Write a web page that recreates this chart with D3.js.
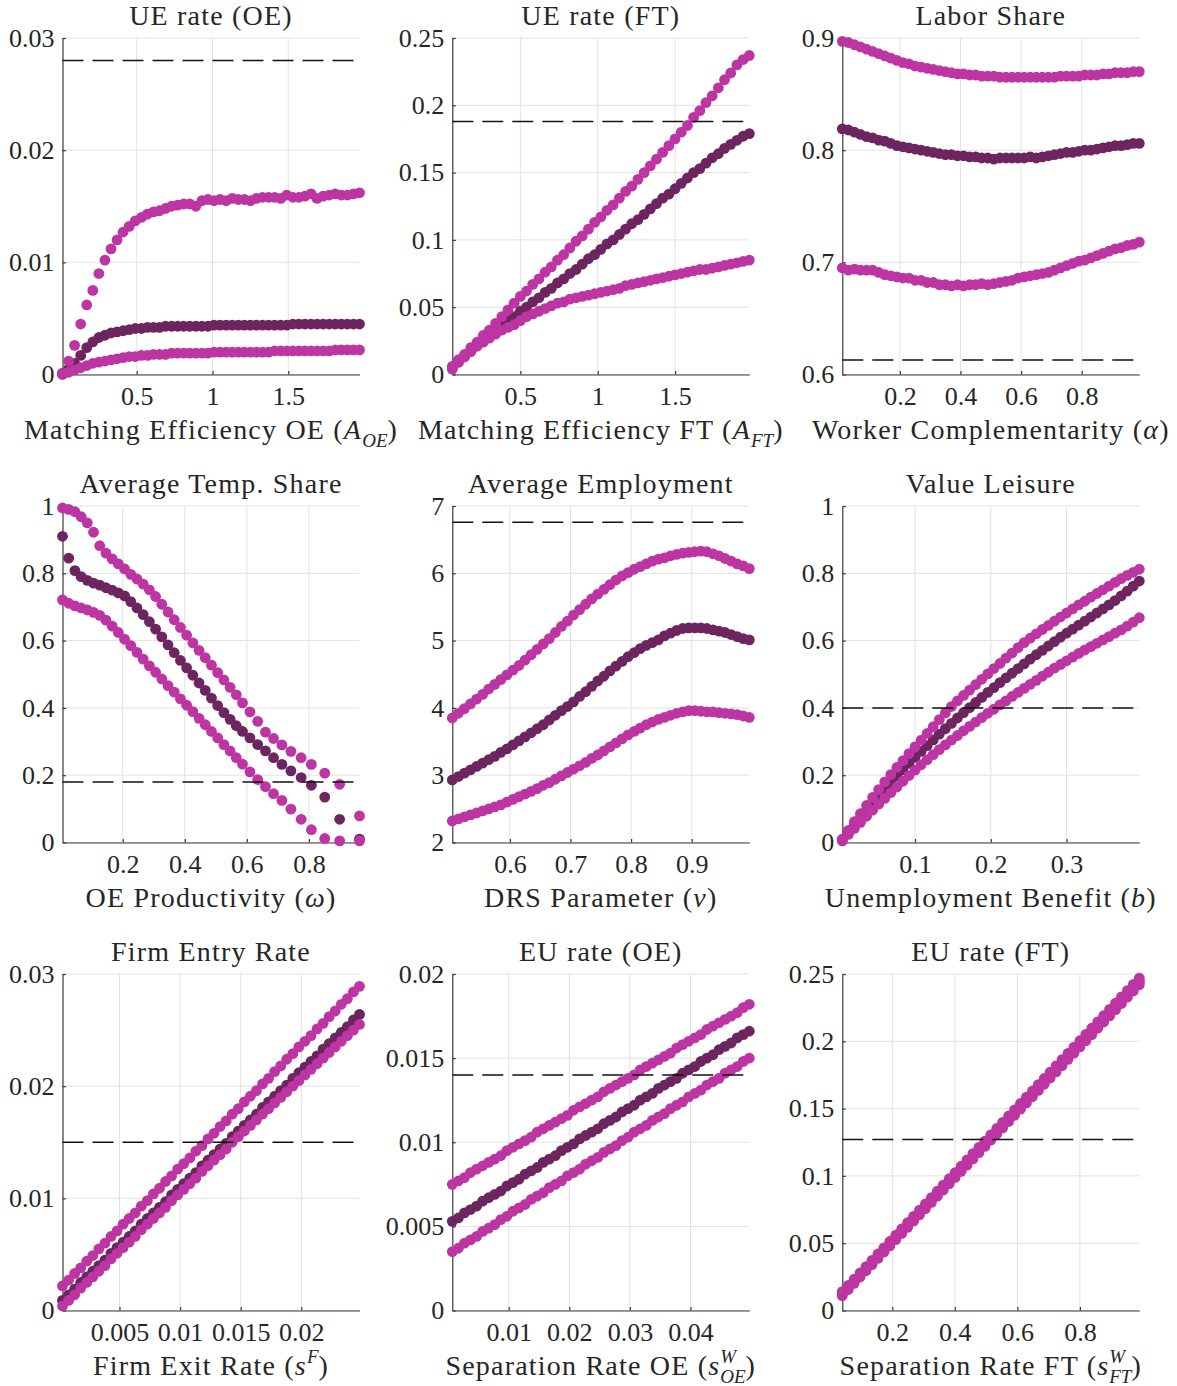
<!DOCTYPE html>
<html lang="en">

<head>
    <meta charset="utf-8" />
    <title>Comparative statics</title>
    <script src="https://d3js.org/d3.v7.min.js"></script>
</head>
<style>
    body {
        margin: 0;
        background: #fff;
    }

    svg text {
        font-family: "Liberation Serif", "DejaVu Serif", serif;
        fill: #262626;
    }

    .axis text {
        font-size: 26px;
    }

    .axis path,
    .axis line {
        stroke: #3a3a3a;
        stroke-width: 1.2px;
    }

    .grid {
        stroke: #e2e2e2;
        stroke-width: 1px;
    }

    .title,
    .xlab {
        font-size: 28px;
        letter-spacing: 1.2px;
    }
</style>

<body>
    <div id="chart"></div>
</body>

<script>
    // ---- data ----
    // UE rate (OE) vs matching efficiency OE
    var aoeGrid = [0.01, 0.05, 0.09, 0.13, 0.17, 0.21, 0.25, 0.29, 0.33, 0.37, 0.41, 0.45, 0.49, 0.53, 0.57, 0.61, 0.65, 0.69, 0.73, 0.77, 0.81, 0.85, 0.89, 0.93, 0.97, 1.01, 1.05, 1.09, 1.13, 1.17, 1.21, 1.25, 1.29, 1.33, 1.37, 1.41, 1.45, 1.49, 1.53, 1.57, 1.61, 1.65, 1.69, 1.73, 1.77, 1.81, 1.85, 1.89, 1.93, 1.97];
    var ueOeHigh = [0.0001, 0.0012, 0.0026, 0.0045, 0.0062, 0.0075, 0.0090, 0.0102, 0.0112, 0.0120, 0.0127, 0.0132, 0.0137, 0.0140, 0.0143, 0.0145, 0.0146, 0.0148, 0.0150, 0.0151, 0.0152, 0.0152, 0.0150, 0.0155, 0.0156, 0.0155, 0.0156, 0.0155, 0.0157, 0.0156, 0.0156, 0.0155, 0.0157, 0.0158, 0.0158, 0.0158, 0.0157, 0.0160, 0.0158, 0.0158, 0.0159, 0.0161, 0.0157, 0.0159, 0.0160, 0.0161, 0.0160, 0.0160, 0.0161, 0.0162];
    var ueOeBase = [0.0001, 0.0005, 0.0010, 0.0017, 0.0024, 0.0029, 0.0033, 0.0035, 0.0037, 0.0038, 0.0039, 0.0040, 0.0041, 0.0041, 0.0042, 0.0042, 0.0042, 0.0043, 0.0043, 0.0043, 0.0043, 0.0043, 0.0043, 0.0043, 0.0043, 0.0044, 0.0044, 0.0044, 0.0044, 0.0044, 0.0044, 0.0044, 0.0044, 0.0044, 0.0044, 0.0044, 0.0044, 0.0044, 0.0045, 0.0045, 0.0045, 0.0045, 0.0045, 0.0045, 0.0045, 0.0045, 0.0045, 0.0045, 0.0045, 0.0045];
    var ueOeLow = [0.0000, 0.0002, 0.0004, 0.0006, 0.0008, 0.0010, 0.0011, 0.0012, 0.0013, 0.0014, 0.0015, 0.0016, 0.0016, 0.0017, 0.0017, 0.0018, 0.0018, 0.0018, 0.0019, 0.0019, 0.0019, 0.0019, 0.0019, 0.0019, 0.0019, 0.0020, 0.0020, 0.0020, 0.0020, 0.0020, 0.0020, 0.0020, 0.0020, 0.0020, 0.0020, 0.0021, 0.0021, 0.0021, 0.0021, 0.0021, 0.0021, 0.0021, 0.0021, 0.0021, 0.0021, 0.0022, 0.0022, 0.0022, 0.0022, 0.0022];

    // UE rate (FT) vs matching efficiency FT
    var aftGrid = [0.06, 0.10, 0.14, 0.18, 0.22, 0.26, 0.30, 0.34, 0.38, 0.42, 0.46, 0.50, 0.54, 0.58, 0.62, 0.66, 0.70, 0.74, 0.78, 0.82, 0.86, 0.90, 0.94, 0.98, 1.02, 1.06, 1.10, 1.14, 1.18, 1.22, 1.26, 1.30, 1.34, 1.38, 1.42, 1.46, 1.50, 1.54, 1.58, 1.62, 1.66, 1.70, 1.74, 1.78, 1.82, 1.86, 1.90, 1.94, 1.98];
    var ueFtHigh = [0.006, 0.011, 0.015, 0.020, 0.024, 0.029, 0.033, 0.038, 0.043, 0.048, 0.053, 0.058, 0.062, 0.067, 0.071, 0.076, 0.080, 0.085, 0.089, 0.094, 0.099, 0.103, 0.108, 0.113, 0.117, 0.122, 0.126, 0.131, 0.136, 0.140, 0.145, 0.150, 0.155, 0.160, 0.165, 0.170, 0.175, 0.180, 0.185, 0.191, 0.196, 0.202, 0.207, 0.213, 0.219, 0.224, 0.230, 0.234, 0.237];
    var ueFtBase = [0.005, 0.010, 0.014, 0.018, 0.022, 0.026, 0.029, 0.033, 0.036, 0.040, 0.043, 0.047, 0.050, 0.054, 0.057, 0.061, 0.064, 0.068, 0.071, 0.075, 0.078, 0.082, 0.086, 0.089, 0.093, 0.097, 0.100, 0.104, 0.108, 0.112, 0.115, 0.119, 0.123, 0.127, 0.131, 0.134, 0.138, 0.142, 0.146, 0.150, 0.153, 0.157, 0.161, 0.164, 0.168, 0.171, 0.174, 0.177, 0.179];
    var ueFtLow = [0.004, 0.009, 0.013, 0.017, 0.021, 0.024, 0.027, 0.030, 0.033, 0.035, 0.037, 0.040, 0.043, 0.045, 0.047, 0.049, 0.051, 0.053, 0.054, 0.056, 0.057, 0.058, 0.059, 0.060, 0.061, 0.062, 0.063, 0.064, 0.066, 0.067, 0.068, 0.069, 0.070, 0.071, 0.072, 0.073, 0.074, 0.075, 0.076, 0.077, 0.078, 0.078, 0.079, 0.080, 0.081, 0.082, 0.083, 0.084, 0.085];

    // Labor share vs worker complementarity
    var alphaGrid = [0.01, 0.03, 0.05, 0.07, 0.09, 0.11, 0.13, 0.15, 0.17, 0.19, 0.21, 0.23, 0.25, 0.27, 0.29, 0.31, 0.33, 0.35, 0.37, 0.39, 0.41, 0.43, 0.45, 0.47, 0.49, 0.51, 0.53, 0.55, 0.57, 0.59, 0.61, 0.63, 0.65, 0.67, 0.69, 0.71, 0.73, 0.75, 0.77, 0.79, 0.81, 0.83, 0.85, 0.87, 0.89, 0.91, 0.93, 0.95, 0.97, 0.99];
    var laborHigh = [0.897, 0.896, 0.894, 0.892, 0.890, 0.888, 0.886, 0.884, 0.882, 0.880, 0.878, 0.877, 0.875, 0.874, 0.873, 0.872, 0.871, 0.870, 0.869, 0.868, 0.868, 0.867, 0.867, 0.866, 0.866, 0.866, 0.865, 0.865, 0.865, 0.865, 0.865, 0.865, 0.865, 0.865, 0.865, 0.865, 0.866, 0.866, 0.866, 0.866, 0.867, 0.867, 0.867, 0.868, 0.868, 0.869, 0.869, 0.869, 0.870, 0.870];
    var laborBase = [0.819, 0.818, 0.816, 0.814, 0.812, 0.811, 0.809, 0.808, 0.806, 0.804, 0.803, 0.802, 0.801, 0.800, 0.799, 0.798, 0.797, 0.796, 0.796, 0.795, 0.795, 0.794, 0.794, 0.793, 0.793, 0.792, 0.793, 0.793, 0.793, 0.793, 0.793, 0.794, 0.793, 0.794, 0.795, 0.796, 0.797, 0.798, 0.798, 0.799, 0.800, 0.800, 0.801, 0.802, 0.803, 0.804, 0.804, 0.805, 0.806, 0.806];
    var laborLow = [0.695, 0.693, 0.694, 0.693, 0.693, 0.693, 0.691, 0.689, 0.688, 0.687, 0.686, 0.686, 0.684, 0.684, 0.682, 0.682, 0.680, 0.680, 0.679, 0.680, 0.679, 0.680, 0.680, 0.681, 0.680, 0.681, 0.682, 0.683, 0.684, 0.686, 0.687, 0.688, 0.689, 0.690, 0.691, 0.693, 0.695, 0.697, 0.699, 0.701, 0.702, 0.704, 0.706, 0.708, 0.710, 0.712, 0.713, 0.715, 0.716, 0.718];

    // Average temp share vs OE productivity
    var omegaGrid = [0.006, 0.026, 0.046, 0.066, 0.086, 0.106, 0.126, 0.146, 0.166, 0.186, 0.206, 0.226, 0.246, 0.266, 0.286, 0.306, 0.326, 0.346, 0.366, 0.386, 0.406, 0.426, 0.446, 0.466, 0.486, 0.506, 0.526, 0.546, 0.566, 0.586, 0.61, 0.635, 0.66, 0.686, 0.713, 0.742, 0.775, 0.808, 0.851, 0.899, 0.963];
    var tempHigh = [0.994, 0.990, 0.983, 0.968, 0.950, 0.922, 0.882, 0.860, 0.843, 0.828, 0.813, 0.797, 0.783, 0.768, 0.751, 0.731, 0.708, 0.685, 0.662, 0.639, 0.616, 0.593, 0.571, 0.549, 0.527, 0.505, 0.483, 0.461, 0.439, 0.415, 0.388, 0.360, 0.328, 0.309, 0.290, 0.271, 0.252, 0.232, 0.206, 0.173, 0.079];
    var tempBase = [0.910, 0.845, 0.808, 0.790, 0.779, 0.771, 0.765, 0.757, 0.750, 0.742, 0.733, 0.716, 0.697, 0.677, 0.656, 0.634, 0.611, 0.587, 0.564, 0.541, 0.519, 0.497, 0.474, 0.452, 0.429, 0.407, 0.386, 0.366, 0.347, 0.330, 0.311, 0.291, 0.272, 0.252, 0.232, 0.213, 0.193, 0.170, 0.135, 0.069, 0.010];
    var tempLow = [0.721, 0.711, 0.703, 0.697, 0.691, 0.684, 0.675, 0.661, 0.643, 0.624, 0.604, 0.585, 0.565, 0.545, 0.525, 0.506, 0.486, 0.466, 0.447, 0.427, 0.408, 0.389, 0.369, 0.350, 0.330, 0.311, 0.291, 0.272, 0.252, 0.233, 0.210, 0.187, 0.166, 0.145, 0.125, 0.099, 0.069, 0.038, 0.012, 0.005, 0.005];

    // Average employment vs DRS parameter
    var nuGrid = [0.505, 0.515, 0.525, 0.535, 0.545, 0.555, 0.565, 0.575, 0.585, 0.595, 0.605, 0.615, 0.625, 0.635, 0.645, 0.655, 0.665, 0.675, 0.685, 0.695, 0.705, 0.715, 0.725, 0.735, 0.745, 0.755, 0.765, 0.775, 0.785, 0.795, 0.805, 0.815, 0.825, 0.835, 0.845, 0.855, 0.865, 0.875, 0.885, 0.895, 0.905, 0.915, 0.925, 0.935, 0.945, 0.955, 0.965, 0.975, 0.985, 0.995];
    var emplHigh = [3.85, 3.92, 3.99, 4.06, 4.13, 4.20, 4.28, 4.35, 4.42, 4.49, 4.56, 4.63, 4.71, 4.79, 4.87, 4.95, 5.03, 5.12, 5.21, 5.29, 5.38, 5.46, 5.54, 5.62, 5.69, 5.76, 5.83, 5.90, 5.96, 6.01, 6.06, 6.10, 6.14, 6.18, 6.21, 6.23, 6.26, 6.28, 6.30, 6.31, 6.32, 6.33, 6.32, 6.29, 6.26, 6.22, 6.18, 6.14, 6.11, 6.07];
    var emplBase = [2.93, 2.98, 3.03, 3.08, 3.13, 3.18, 3.23, 3.28, 3.34, 3.39, 3.45, 3.51, 3.57, 3.63, 3.69, 3.75, 3.82, 3.89, 3.96, 4.02, 4.09, 4.17, 4.24, 4.32, 4.40, 4.47, 4.55, 4.62, 4.69, 4.76, 4.82, 4.88, 4.93, 4.97, 5.01, 5.07, 5.11, 5.15, 5.18, 5.19, 5.19, 5.19, 5.18, 5.16, 5.14, 5.12, 5.09, 5.06, 5.03, 5.01];
    var emplLow = [2.32, 2.35, 2.38, 2.41, 2.44, 2.47, 2.50, 2.53, 2.56, 2.60, 2.64, 2.68, 2.72, 2.76, 2.80, 2.85, 2.89, 2.94, 2.99, 3.04, 3.09, 3.14, 3.19, 3.25, 3.30, 3.36, 3.42, 3.48, 3.54, 3.60, 3.65, 3.70, 3.75, 3.79, 3.83, 3.86, 3.89, 3.92, 3.94, 3.96, 3.96, 3.95, 3.94, 3.94, 3.93, 3.92, 3.91, 3.90, 3.88, 3.86];

    // Value of leisure vs unemployment benefit
    var bGrid = [0.004, 0.012, 0.020, 0.028, 0.036, 0.044, 0.052, 0.060, 0.068, 0.076, 0.084, 0.092, 0.100, 0.108, 0.116, 0.124, 0.132, 0.140, 0.148, 0.156, 0.164, 0.172, 0.180, 0.188, 0.196, 0.204, 0.212, 0.220, 0.228, 0.236, 0.244, 0.252, 0.260, 0.268, 0.276, 0.284, 0.292, 0.300, 0.308, 0.316, 0.324, 0.332, 0.340, 0.348, 0.356, 0.364, 0.372, 0.380, 0.388, 0.396];
    var leisureHigh = [0.010, 0.036, 0.062, 0.086, 0.110, 0.134, 0.157, 0.180, 0.202, 0.223, 0.243, 0.264, 0.284, 0.304, 0.324, 0.344, 0.365, 0.385, 0.404, 0.421, 0.437, 0.453, 0.469, 0.485, 0.501, 0.517, 0.532, 0.548, 0.563, 0.579, 0.594, 0.607, 0.620, 0.633, 0.645, 0.658, 0.670, 0.682, 0.694, 0.706, 0.717, 0.729, 0.740, 0.751, 0.762, 0.773, 0.784, 0.794, 0.803, 0.812];
    var leisureBase = [0.008, 0.030, 0.052, 0.074, 0.095, 0.116, 0.137, 0.157, 0.177, 0.197, 0.216, 0.235, 0.253, 0.271, 0.288, 0.305, 0.322, 0.338, 0.354, 0.370, 0.386, 0.401, 0.416, 0.431, 0.446, 0.460, 0.475, 0.489, 0.503, 0.517, 0.531, 0.545, 0.558, 0.571, 0.584, 0.597, 0.610, 0.622, 0.634, 0.646, 0.658, 0.670, 0.682, 0.694, 0.706, 0.719, 0.733, 0.747, 0.762, 0.777];
    var leisureLow = [0.005, 0.024, 0.042, 0.060, 0.078, 0.096, 0.114, 0.131, 0.148, 0.165, 0.182, 0.199, 0.215, 0.231, 0.246, 0.261, 0.276, 0.290, 0.304, 0.318, 0.332, 0.345, 0.358, 0.371, 0.384, 0.396, 0.409, 0.421, 0.434, 0.446, 0.458, 0.470, 0.482, 0.494, 0.506, 0.518, 0.529, 0.540, 0.551, 0.562, 0.572, 0.582, 0.592, 0.602, 0.612, 0.622, 0.632, 0.643, 0.655, 0.668];

    // Firm entry rate vs firm exit rate
    var sfGrid = [0.0003, 0.0008, 0.0013, 0.0018, 0.0023, 0.0028, 0.0033, 0.0038, 0.0043, 0.0048, 0.0053, 0.0058, 0.0063, 0.0068, 0.0073, 0.0078, 0.0083, 0.0088, 0.0093, 0.0098, 0.0103, 0.0108, 0.0113, 0.0118, 0.0123, 0.0128, 0.0133, 0.0138, 0.0143, 0.0148, 0.0153, 0.0158, 0.0163, 0.0168, 0.0173, 0.0178, 0.0183, 0.0188, 0.0193, 0.0198, 0.0203, 0.0208, 0.0213, 0.0218, 0.0223, 0.0228, 0.0233, 0.0238, 0.0243, 0.0248];
    var entryHigh = [0.0022, 0.0027, 0.0033, 0.0038, 0.0044, 0.0049, 0.0055, 0.0060, 0.0066, 0.0071, 0.0077, 0.0082, 0.0087, 0.0093, 0.0098, 0.0104, 0.0109, 0.0115, 0.0120, 0.0126, 0.0131, 0.0136, 0.0142, 0.0147, 0.0153, 0.0158, 0.0164, 0.0169, 0.0175, 0.0180, 0.0186, 0.0191, 0.0196, 0.0202, 0.0207, 0.0213, 0.0218, 0.0224, 0.0229, 0.0235, 0.0240, 0.0245, 0.0251, 0.0256, 0.0262, 0.0267, 0.0273, 0.0278, 0.0284, 0.0289];
    var entryBase = [0.0009, 0.0014, 0.0019, 0.0025, 0.0030, 0.0035, 0.0040, 0.0045, 0.0051, 0.0056, 0.0061, 0.0066, 0.0071, 0.0077, 0.0082, 0.0087, 0.0092, 0.0097, 0.0103, 0.0108, 0.0113, 0.0118, 0.0123, 0.0129, 0.0134, 0.0139, 0.0144, 0.0149, 0.0155, 0.0160, 0.0165, 0.0170, 0.0175, 0.0181, 0.0186, 0.0191, 0.0196, 0.0201, 0.0207, 0.0212, 0.0217, 0.0222, 0.0227, 0.0233, 0.0238, 0.0243, 0.0248, 0.0253, 0.0259, 0.0264];
    var entryLow = [0.0004, 0.0009, 0.0014, 0.0020, 0.0025, 0.0030, 0.0035, 0.0040, 0.0046, 0.0051, 0.0056, 0.0061, 0.0066, 0.0072, 0.0077, 0.0082, 0.0087, 0.0092, 0.0098, 0.0103, 0.0108, 0.0113, 0.0118, 0.0124, 0.0129, 0.0134, 0.0139, 0.0144, 0.0150, 0.0155, 0.0160, 0.0165, 0.0170, 0.0175, 0.0180, 0.0185, 0.0190, 0.0195, 0.0200, 0.0205, 0.0210, 0.0215, 0.0220, 0.0225, 0.0230, 0.0235, 0.0240, 0.0245, 0.0250, 0.0255];

    // EU rate (OE) vs separation rate OE
    var swOeGrid = [0.0007, 0.0017, 0.0027, 0.0037, 0.0047, 0.0057, 0.0067, 0.0077, 0.0087, 0.0097, 0.0107, 0.0117, 0.0127, 0.0137, 0.0147, 0.0157, 0.0167, 0.0177, 0.0187, 0.0197, 0.0207, 0.0217, 0.0227, 0.0237, 0.0247, 0.0257, 0.0267, 0.0277, 0.0287, 0.0297, 0.0307, 0.0317, 0.0327, 0.0337, 0.0347, 0.0357, 0.0367, 0.0377, 0.0387, 0.0397, 0.0407, 0.0417, 0.0427, 0.0437, 0.0447, 0.0457, 0.0467, 0.0477, 0.0487, 0.0497];
    var euOeHigh = [0.0075, 0.0077, 0.0079, 0.0082, 0.0084, 0.0086, 0.0088, 0.0090, 0.0092, 0.0095, 0.0097, 0.0099, 0.0101, 0.0103, 0.0106, 0.0108, 0.0110, 0.0112, 0.0114, 0.0116, 0.0119, 0.0121, 0.0123, 0.0125, 0.0127, 0.0130, 0.0132, 0.0134, 0.0136, 0.0138, 0.0140, 0.0143, 0.0145, 0.0147, 0.0149, 0.0151, 0.0153, 0.0156, 0.0158, 0.0160, 0.0162, 0.0164, 0.0167, 0.0169, 0.0171, 0.0173, 0.0175, 0.0177, 0.0180, 0.0182];
    var euOeBase = [0.0053, 0.0055, 0.0058, 0.0060, 0.0062, 0.0065, 0.0067, 0.0069, 0.0071, 0.0074, 0.0076, 0.0078, 0.0081, 0.0083, 0.0085, 0.0088, 0.0090, 0.0092, 0.0095, 0.0097, 0.0099, 0.0102, 0.0104, 0.0106, 0.0108, 0.0111, 0.0113, 0.0115, 0.0118, 0.0120, 0.0122, 0.0125, 0.0127, 0.0129, 0.0132, 0.0134, 0.0136, 0.0138, 0.0141, 0.0143, 0.0145, 0.0148, 0.0150, 0.0152, 0.0155, 0.0157, 0.0159, 0.0162, 0.0164, 0.0166];
    var euOeLow = [0.0035, 0.0037, 0.0040, 0.0042, 0.0044, 0.0047, 0.0049, 0.0051, 0.0054, 0.0056, 0.0059, 0.0061, 0.0063, 0.0066, 0.0068, 0.0070, 0.0073, 0.0075, 0.0077, 0.0080, 0.0082, 0.0084, 0.0087, 0.0089, 0.0091, 0.0094, 0.0096, 0.0098, 0.0101, 0.0103, 0.0106, 0.0108, 0.0110, 0.0113, 0.0115, 0.0117, 0.0120, 0.0122, 0.0124, 0.0127, 0.0129, 0.0131, 0.0134, 0.0136, 0.0138, 0.0141, 0.0143, 0.0145, 0.0148, 0.0150];

    // EU rate (FT) vs separation rate FT
    var swFtGrid = [0.040, 0.059, 0.078, 0.097, 0.116, 0.135, 0.154, 0.173, 0.192, 0.211, 0.230, 0.249, 0.268, 0.287, 0.306, 0.325, 0.344, 0.363, 0.382, 0.401, 0.420, 0.439, 0.458, 0.477, 0.496, 0.515, 0.534, 0.553, 0.572, 0.591, 0.610, 0.629, 0.648, 0.667, 0.686, 0.705, 0.724, 0.743, 0.762, 0.781, 0.800, 0.819, 0.838, 0.857, 0.876, 0.895, 0.914, 0.933, 0.952, 0.971, 0.990];
    var euFtHigh = [0.0140, 0.0187, 0.0233, 0.0280, 0.0326, 0.0373, 0.0420, 0.0466, 0.0513, 0.0559, 0.0606, 0.0653, 0.0699, 0.0746, 0.0792, 0.0839, 0.0886, 0.0932, 0.0979, 0.1025, 0.1072, 0.1119, 0.1165, 0.1212, 0.1258, 0.1305, 0.1352, 0.1398, 0.1445, 0.1491, 0.1538, 0.1585, 0.1631, 0.1678, 0.1724, 0.1771, 0.1818, 0.1864, 0.1911, 0.1957, 0.2004, 0.2051, 0.2097, 0.2144, 0.2190, 0.2237, 0.2284, 0.2330, 0.2377, 0.2423, 0.2470];
    var euFtBase = [0.0125, 0.0171, 0.0218, 0.0264, 0.0311, 0.0357, 0.0403, 0.0450, 0.0496, 0.0543, 0.0589, 0.0635, 0.0682, 0.0728, 0.0775, 0.0821, 0.0867, 0.0914, 0.0960, 0.1007, 0.1053, 0.1099, 0.1146, 0.1192, 0.1239, 0.1285, 0.1331, 0.1378, 0.1424, 0.1471, 0.1517, 0.1563, 0.1610, 0.1656, 0.1703, 0.1749, 0.1795, 0.1842, 0.1888, 0.1935, 0.1981, 0.2027, 0.2074, 0.2120, 0.2167, 0.2213, 0.2259, 0.2306, 0.2352, 0.2399, 0.2445];
    var euFtLow = [0.0110, 0.0156, 0.0202, 0.0249, 0.0295, 0.0341, 0.0387, 0.0433, 0.0480, 0.0526, 0.0572, 0.0618, 0.0664, 0.0711, 0.0757, 0.0803, 0.0849, 0.0895, 0.0942, 0.0988, 0.1034, 0.1080, 0.1126, 0.1173, 0.1219, 0.1265, 0.1311, 0.1357, 0.1404, 0.1450, 0.1496, 0.1542, 0.1588, 0.1635, 0.1681, 0.1727, 0.1773, 0.1819, 0.1866, 0.1912, 0.1958, 0.2004, 0.2050, 0.2097, 0.2143, 0.2189, 0.2235, 0.2281, 0.2328, 0.2374, 0.2420];

    // data targets (dashed lines)
    var targets = [0.028, 0.188, 0.613, 0.18, 6.76, 0.4, 0.015, 0.014, 0.127];

    var titles = ["UE rate (OE)", "UE rate (FT)", "Labor Share", "Average Temp. Share", "Average Employment",
        "Value Leisure", "Firm Entry Rate", "EU rate (OE)", "EU rate (FT)"];

    var xTickSets = [[0.5, 1, 1.5], [0.5, 1, 1.5], [0.2, 0.4, 0.6, 0.8], [0.2, 0.4, 0.6, 0.8], [0.6, 0.7, 0.8, 0.9],
        [0.1, 0.2, 0.3], [0.005, 0.01, 0.015, 0.02], [0.01, 0.02, 0.03, 0.04], [0.2, 0.4, 0.6, 0.8]];
    var yTickSets = [[0, 0.01, 0.02, 0.03], [0, 0.05, 0.1, 0.15, 0.2, 0.25], [0.6, 0.7, 0.8, 0.9], [0, 0.2, 0.4, 0.6, 0.8, 1],
        [2, 3, 4, 5, 6, 7], [0, 0.2, 0.4, 0.6, 0.8, 1], [0, 0.01, 0.02, 0.03], [0, 0.005, 0.01, 0.015, 0.02],
        [0, 0.05, 0.1, 0.15, 0.2, 0.25]];

    // axis labels, split into pieces for italics and sub/superscripts
    var xLabels = [
        [{ t: "Matching Efficiency OE (" }, { t: "A", it: 1 }, { t: "OE", it: 1, sub: 1 }, { t: ")" }],
        [{ t: "Matching Efficiency FT (" }, { t: "A", it: 1 }, { t: "FT", it: 1, sub: 1 }, { t: ")" }],
        [{ t: "Worker Complementarity (" }, { t: "α", it: 1 }, { t: ")" }],
        [{ t: "OE Productivity (" }, { t: "ω", it: 1 }, { t: ")" }],
        [{ t: "DRS Parameter (" }, { t: "ν", it: 1 }, { t: ")" }],
        [{ t: "Unemployment Benefit (" }, { t: "b", it: 1 }, { t: ")" }],
        [{ t: "Firm Exit Rate (" }, { t: "s", it: 1 }, { t: "F", it: 1, sup: 1 }, { t: ")" }],
        [{ t: "Separation Rate OE (" }, { t: "s", it: 1 }, { t: "W", it: 1, sup: 1 }, { t: "OE", it: 1, sub: 1, stack: 1 }, { t: ")" }],
        [{ t: "Separation Rate FT (" }, { t: "s", it: 1 }, { t: "W", it: 1, sup: 1 }, { t: "FT", it: 1, sub: 1, stack: 1 }, { t: ")" }]
    ];

    var grids = [aoeGrid, aftGrid, alphaGrid, omegaGrid, nuGrid, bGrid, sfGrid, swOeGrid, swFtGrid];
    var highs = [ueOeHigh, ueFtHigh, laborHigh, tempHigh, emplHigh, leisureHigh, entryHigh, euOeHigh, euFtHigh];
    var bases = [ueOeBase, ueFtBase, laborBase, tempBase, emplBase, leisureBase, entryBase, euOeBase, euFtBase];
    var lows = [ueOeLow, ueFtLow, laborLow, tempLow, emplLow, leisureLow, entryLow, euOeLow, euFtLow];

    // ---- layout ----
    var colLeft = [62.5, 452.3, 842.3];
    var rowTop = [38, 506, 974];
    var pw = 297, ph = 336.5;
    var magenta = "#bd34a3", plum = "#6d2560";

    var svg = d3.select("#chart").append("svg")
        .attr("width", 1177)
        .attr("height", 1386);

    function fmt(d) { return String(d); }

    function addLabel(g, parts, cx, cy) {
        var t = g.append("text").attr("class", "xlab")
            .attr("x", cx).attr("y", cy).attr("text-anchor", "middle");
        var shift = 0, lastW = 0;
        parts.forEach(function (s) {
            var ts = t.append("tspan").text(s.t);
            var target = s.sup ? -12 : (s.sub ? 8 : 0);
            if (target !== shift) ts.attr("dy", target - shift);
            shift = target;
            if (s.it) ts.style("font-style", "italic");
            if (s.sup || s.sub) ts.style("font-size", "19px").style("letter-spacing", "0px");
            if (s.stack) ts.attr("dx", -lastW);
            lastW = ts.node().getComputedTextLength();
        });
    }

    titles.forEach(function (title, i) {
        var g = svg.append("g")
            .attr("transform", "translate(" + colLeft[i % 3] + "," + rowTop[Math.floor(i / 3)] + ")");

        var xs = grids[i];
        var x = d3.scaleLinear().domain(d3.extent(xs)).range([0, pw]);
        var yt = yTickSets[i];
        var y = d3.scaleLinear().domain([yt[0], yt[yt.length - 1]]).range([ph, 0]);

        // grid
        g.append("g").selectAll("line").data(xTickSets[i]).enter().append("line")
            .attr("class", "grid")
            .attr("x1", function (d) { return x(d); }).attr("x2", function (d) { return x(d); })
            .attr("y1", 0).attr("y2", ph);
        g.append("g").selectAll("line").data(yt).enter().append("line")
            .attr("class", "grid")
            .attr("x1", 0).attr("x2", pw)
            .attr("y1", function (d) { return y(d); }).attr("y2", function (d) { return y(d); });

        // axes
        g.append("g").attr("class", "axis")
            .attr("transform", "translate(0," + ph + ")")
            .call(d3.axisBottom(x).tickValues(xTickSets[i]).tickFormat(fmt)
                .tickSizeInner(-3.5).tickSizeOuter(0).tickPadding(12));
        g.append("g").attr("class", "axis")
            .call(d3.axisLeft(y).tickValues(yt).tickFormat(fmt)
                .tickSizeInner(-3.5).tickSizeOuter(0).tickPadding(8));
        g.selectAll(".axis").attr("font-family", null);
        g.selectAll(".axis .domain").attr("fill", "none");

        // markers: baseline first, then the two alternatives
        [[bases[i], plum], [lows[i], magenta], [highs[i], magenta]].forEach(function (s) {
            g.append("g").selectAll("circle").data(s[0]).enter().append("circle")
                .attr("cx", function (d, k) { return x(xs[k]); })
                .attr("cy", function (d) { return y(d); })
                .attr("r", 5.4)
                .attr("fill", s[1]);
        });

        // data target
        g.append("line")
            .attr("x1", 0).attr("x2", pw)
            .attr("y1", y(targets[i])).attr("y2", y(targets[i]))
            .attr("stroke", "#111").attr("stroke-width", 1.5)
            .attr("stroke-dasharray", "21,9");

        g.append("text").attr("class", "title")
            .attr("x", pw / 2).attr("y", -13)
            .attr("text-anchor", "middle")
            .text(title);

        addLabel(g, xLabels[i], pw / 2, ph + 64);
    });
</script>

</html>
